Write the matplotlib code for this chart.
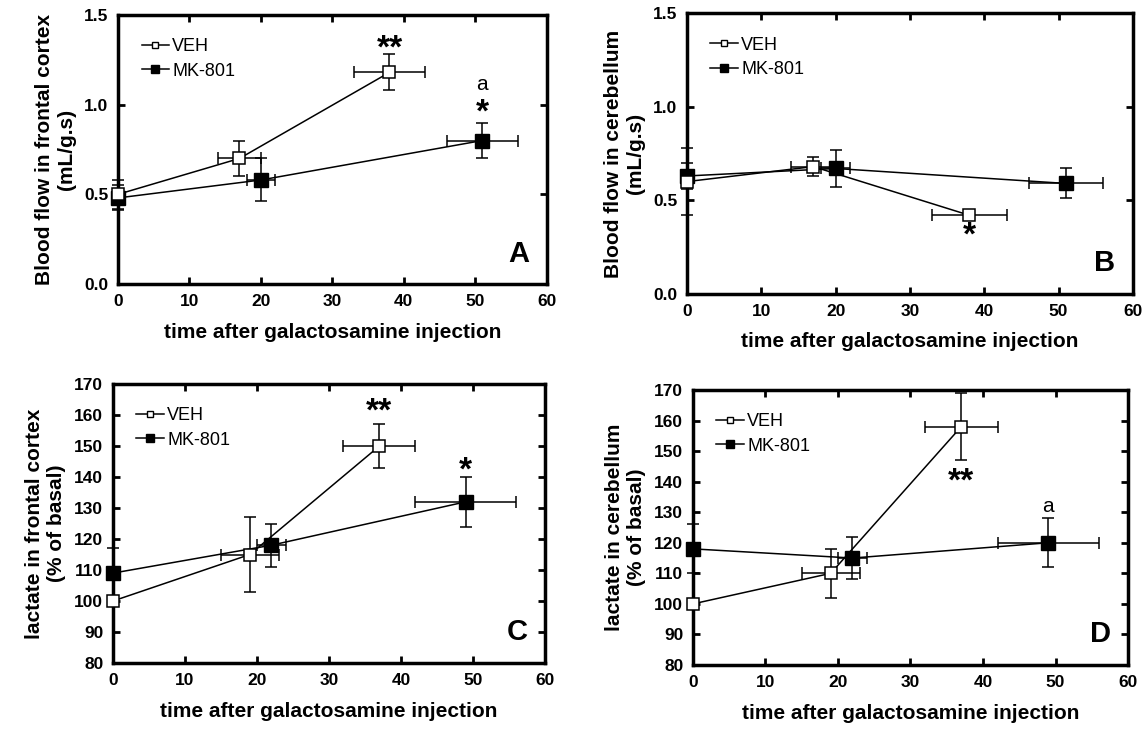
import numpy as np
import matplotlib
matplotlib.use('Agg')
import matplotlib.pyplot as plt
from matplotlib.lines import Line2D

plt.rcParams['font.family'] = ['Liberation Sans', 'DejaVu Sans']

# Panel A: blood flow, frontal cortex
a_veh_x = [0, 17, 38]
a_veh_y = [0.50, 0.70, 1.18]
a_veh_xerr = [0, 3, 5]
a_veh_yerr = [0.08, 0.10, 0.10]
a_mk_x = [0, 20, 51]
a_mk_y = [0.48, 0.58, 0.80]
a_mk_xerr = [0, 2, 5]
a_mk_yerr = [0.07, 0.12, 0.10]

# Panel B: blood flow, cerebellum
b_veh_x = [0, 17, 38]
b_veh_y = [0.60, 0.68, 0.42]
b_veh_xerr = [0, 3, 5]
b_veh_yerr = [0.18, 0.05, 0.01]
b_mk_x = [0, 20, 51]
b_mk_y = [0.63, 0.67, 0.59]
b_mk_xerr = [0, 2, 5]
b_mk_yerr = [0.07, 0.10, 0.08]

# Panel C: lactate, frontal cortex
c_veh_x = [0, 19, 37]
c_veh_y = [100, 115, 150]
c_veh_xerr = [0, 4, 5]
c_veh_yerr = [0, 12, 7]
c_mk_x = [0, 22, 49]
c_mk_y = [109, 118, 132]
c_mk_xerr = [0, 2, 7]
c_mk_yerr = [8, 7, 8]

# Panel D: lactate, cerebellum
d_veh_x = [0, 19, 37]
d_veh_y = [100, 110, 158]
d_veh_xerr = [0, 4, 5]
d_veh_yerr = [0, 8, 11]
d_mk_x = [0, 22, 49]
d_mk_y = [118, 115, 120]
d_mk_xerr = [0, 2, 7]
d_mk_yerr = [8, 7, 8]

xlabel = 'time after galactosamine injection'
ylabels = ['Blood flow in frontal cortex\n(mL/g.s)',
           'Blood flow in cerebellum\n(mL/g.s)',
           'lactate in frontal cortex\n(% of basal)',
           'lactate in cerebellum\n(% of basal)']
letters = ['A', 'B', 'C', 'D']

# (left, bottom, width, height) in figure fractions
positions = [(0.103, 0.6115, 0.374, 0.368),
             (0.5995, 0.598, 0.389, 0.384),
             (0.0986, 0.093, 0.377, 0.3817),
             (0.6047, 0.0903, 0.3796, 0.3762)]

panels = [
    (a_veh_x, a_veh_y, a_veh_xerr, a_veh_yerr, a_mk_x, a_mk_y, a_mk_xerr, a_mk_yerr),
    (b_veh_x, b_veh_y, b_veh_xerr, b_veh_yerr, b_mk_x, b_mk_y, b_mk_xerr, b_mk_yerr),
    (c_veh_x, c_veh_y, c_veh_xerr, c_veh_yerr, c_mk_x, c_mk_y, c_mk_xerr, c_mk_yerr),
    (d_veh_x, d_veh_y, d_veh_xerr, d_veh_yerr, d_mk_x, d_mk_y, d_mk_xerr, d_mk_yerr),
]

fig = plt.figure(figsize=(11.46, 7.31), dpi=100)

for i, (vx, vy, vxe, vye, mx, my, mxe, mye) in enumerate(panels):
    ax = fig.add_axes(positions[i])
    for art in [
        ax.errorbar(mx, my, xerr=mxe, yerr=mye, color='black', lw=1.1,
                    marker='s', ms=10, mfc='black', mec='black', capsize=4,
                    elinewidth=1.1, capthick=1.1, zorder=3),
        ax.errorbar(vx, vy, xerr=vxe, yerr=vye, color='black', lw=1.1,
                    marker='s', ms=8, mfc='white', mec='black', mew=1.1, capsize=4,
                    elinewidth=1.1, capthick=1.1, zorder=4)]:
        for child in art.get_children():
            child.set_clip_on(False)

    ax.set_xlim(0, 60)
    ax.set_xticks(range(0, 61, 10))
    if i < 2:
        ax.set_ylim(0, 1.5)
        ax.set_yticks([0.0, 0.5, 1.0, 1.5])
        ax.set_yticklabels(['0.0', '0.5', '1.0', '1.5'])
    else:
        ax.set_ylim(80, 170)
        ax.set_yticks(range(80, 171, 10))

    for s in ax.spines.values():
        s.set_linewidth(2.5)
    ax.tick_params(direction='in', top=True, right=True, length=5, width=2,
                   labelsize=12.5, pad=7)
    for lab in ax.get_xticklabels() + ax.get_yticklabels():
        lab.set_fontweight('bold')

    ax.set_xlabel(xlabel, fontsize=15, fontweight='bold', labelpad=10)
    ax.set_ylabel(ylabels[i], fontsize=15, fontweight='bold', labelpad=6)

    handles = [Line2D([], [], color='black', lw=1.1, marker='s', ms=5,
                      mfc='white', mec='black'),
               Line2D([], [], color='black', lw=1.1, marker='s', ms=6,
                      mfc='black', mec='black')]
    ax.legend(handles, ['VEH', 'MK-801'], loc='upper left', frameon=False,
              fontsize=13, handlelength=1.5, handletextpad=0.2,
              borderaxespad=0.9, labelspacing=0.4)

    ax.text(0.96, 0.06, letters[i], transform=ax.transAxes, ha='right',
            va='bottom', fontsize=21, fontweight='bold')

fig.axes[0].text(38, 1.31, '**', ha='center', va='center', fontsize=24, fontweight='bold')
fig.axes[0].text(51, 0.955, '*', ha='center', va='center', fontsize=24, fontweight='bold')
fig.axes[0].text(51, 1.11, 'a', ha='center', va='center', fontsize=15)
fig.axes[1].text(38, 0.31, '*', ha='center', va='center', fontsize=24, fontweight='bold')
fig.axes[2].text(37, 161, '**', ha='center', va='center', fontsize=24, fontweight='bold')
fig.axes[2].text(49, 142, '*', ha='center', va='center', fontsize=24, fontweight='bold')
fig.axes[3].text(37, 140, '**', ha='center', va='center', fontsize=24, fontweight='bold')
fig.axes[3].text(49, 132, 'a', ha='center', va='center', fontsize=15)

fig.savefig('out.png', dpi=100)
